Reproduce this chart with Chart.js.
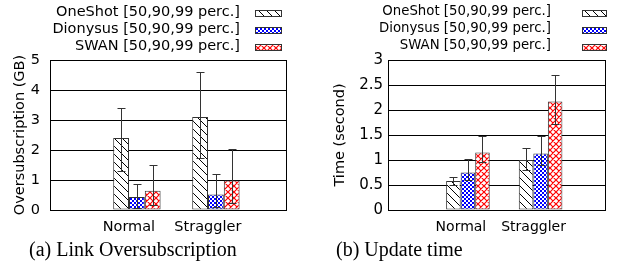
<!DOCTYPE html>
<html>
<head>
<meta charset="utf-8">
<script src="https://cdn.jsdelivr.net/npm/chart.js@4.4.1/dist/chart.umd.min.js"></script>
<style>
  body { margin: 0; background: #fff; width: 620px; height: 280px; position: relative; overflow: hidden; }
  canvas { position: absolute; top: 0; }
  .cap { position: absolute; top: 239px; font: 20px "Liberation Serif", serif; line-height: 20px; white-space: nowrap; color: #000; }
</style>
</head>
<body>
<canvas id="oversubChart" width="310" height="240" style="left:0"></canvas>
<canvas id="updateChart" width="310" height="240" style="left:310px"></canvas>
<div class="cap" style="left:29px">(a) Link Oversubscription</div>
<div class="cap" style="left:336px">(b) Update time</div>
<script>
const categories = ['Normal', 'Straggler'];
const seriesNames = ['OneShot [50,90,99 perc.]', 'Dionysus [50,90,99 perc.]', 'SWAN [50,90,99 perc.]'];

// (a) link oversubscription, GB: bar = 50th perc., whisker = 90..99
const oversubOneShot = [2.4, 3.1];
const oversubDionysus = [0.43, 0.52];
const oversubSwan = [0.64, 0.98];
const oversubLo = [[1.3, 1.73], [0.08, 0.1], [0.16, 0.24]];
const oversubHi = [[3.4, 4.6], [0.88, 1.2], [1.5, 2.05]];
const oversubTicks = [0, 1, 2, 3, 4, 5];

// (b) update time, seconds
const timeOneShot = [0.58, 1.0];
const timeDionysus = [0.75, 1.13];
const timeSwan = [1.15, 2.17];
const timeLo = [[0.5, 0.8], [0.61, 0.91], [0.97, 1.73]];
const timeHi = [[0.67, 1.24], [1.03, 1.48], [1.48, 2.7]];
const timeTicks = [0, 0.5, 1, 1.5, 2, 2.5, 3];

Chart.defaults.color = '#000';
const FONT = 'DejaVu Sans';

function tile(size, draw) {
  const c = document.createElement('canvas');
  c.width = c.height = size;
  const g = c.getContext('2d');
  g.fillStyle = '#fff';
  g.fillRect(0, 0, size, size);
  draw(g, size);
  return g.createPattern(c, 'repeat');
}

function makeFills() {
  const hatch = tile(8, (g, s) => {
    g.strokeStyle = '#000'; g.lineWidth = 1;
    g.beginPath();
    for (const k of [-s, 0, s]) { g.moveTo(k - 1, -1); g.lineTo(k + s + 1, s + 1); }
    g.stroke();
  });
  const check = tile(4, (g) => {
    g.fillStyle = '#0000ff';
    g.fillRect(0, 0, 2, 2);
    g.fillRect(2, 2, 2, 2);
  });
  const cross = tile(6, (g, s) => {
    g.strokeStyle = '#ff0000'; g.lineWidth = 1.2;
    g.beginPath();
    for (const k of [-s, 0, s]) {
      g.moveTo(k - 1, -1); g.lineTo(k + s + 1, s + 1);
      g.moveTo(k + s + 1, -1); g.lineTo(k - 1, s + 1);
    }
    g.stroke();
  });
  return [hatch, check, cross];
}

const errorBars = {
  id: 'errorBars',
  afterDatasetsDraw(chart) {
    const {ctx, scales: {y}} = chart;
    ctx.save();
    ctx.strokeStyle = '#333';
    ctx.lineWidth = 1;
    chart.data.datasets.forEach((ds, i) => {
      chart.getDatasetMeta(i).data.forEach((bar, j) => {
        const x = Math.round(bar.x) + 0.5;
        const top = Math.round(y.getPixelForValue(ds.hi[j])) + 0.5;
        const bot = Math.round(y.getPixelForValue(ds.lo[j])) + 0.5;
        ctx.beginPath();
        ctx.moveTo(x, top); ctx.lineTo(x, bot);
        ctx.moveTo(x - 4, top); ctx.lineTo(x + 4, top);
        ctx.moveTo(x - 4, bot); ctx.lineTo(x + 4, bot);
        ctx.stroke();
      });
    });
    ctx.restore();
  }
};

const frameAndLegend = {
  id: 'frameAndLegend',
  afterDraw(chart, args, opts) {
    const {ctx, chartArea: a} = chart;
    ctx.save();
    ctx.strokeStyle = '#000';
    ctx.lineWidth = 1;
    ctx.strokeRect(Math.round(a.left) + 0.5, Math.round(a.top) + 0.5,
      Math.round(a.right - a.left) - 1, Math.round(a.bottom - a.top));
    ctx.font = opts.fontSize + 'px "' + FONT + '"';
    ctx.textAlign = 'right';
    ctx.textBaseline = 'middle';
    chart.data.datasets.forEach((ds, i) => {
      const yy = 12 + 17 * i;
      ctx.fillStyle = '#000';
      ctx.fillText(ds.label, opts.textRight, yy);
      ctx.fillStyle = ds.backgroundColor;
      ctx.fillRect(opts.boxLeft, yy - 2, opts.boxWidth, 7);
      ctx.strokeStyle = '#333';
      ctx.strokeRect(opts.boxLeft + 0.5, yy - 1.5, opts.boxWidth - 1, 6);
    });
    ctx.restore();
  }
};

function makeChart(id, o) {
  const ctx = document.getElementById(id).getContext('2d');
  const fills = makeFills();
  const font = {family: FONT, size: o.fontSize};
  return new Chart(ctx, {
    type: 'bar',
    data: {
      datasets: o.values.map((vals, i) => ({
        label: seriesNames[i],
        data: vals.map((v, j) => ({x: j, y: v})),
        lo: o.lo[i],
        hi: o.hi[i],
        backgroundColor: fills[i],
        borderColor: '#333',
        borderWidth: 1,
        borderSkipped: false,
        categoryPercentage: 0.6,
        barPercentage: 1
      }))
    },
    options: {
      responsive: false,
      animation: false,
      layout: {padding: {left: 0, top: 60, right: o.padRight, bottom: 5}},
      plugins: {
        legend: {display: false},
        tooltip: {enabled: false},
        frameAndLegend: o.legend
      },
      scales: {
        x: {
          type: 'linear', min: -1.1, max: 1.9, offset: false,
          grid: {display: false}, border: {display: false},
          afterBuildTicks: s => { s.ticks = categories.map((c, j) => ({value: j})); },
          afterFit: s => { s.height = 25; },
          ticks: {
            callback: v => categories[v] ?? '',
            font: font, padding: 1, labelOffset: o.labelShift,
            maxRotation: 0, autoSkip: false
          }
        },
        y: {
          min: 0, max: o.ticks[o.ticks.length - 1],
          afterBuildTicks: s => { s.ticks = o.ticks.map(v => ({value: v})); },
          afterFit: s => { s.width = o.axisWidth; },
          ticks: {callback: v => String(v), padding: o.tickPad, font: {family: FONT, size: o.tickSize}},
          grid: {color: '#000', drawTicks: false},
          border: {color: '#000'},
          title: {display: true, text: o.yTitle, font: {family: FONT, size: 14.5},
                  padding: {top: o.titlePad, bottom: 0}}
        }
      }
    },
    plugins: [errorBars, frameAndLegend]
  });
}

makeChart('oversubChart', {
  values: [oversubOneShot, oversubDionysus, oversubSwan],
  lo: oversubLo, hi: oversubHi, ticks: oversubTicks,
  yTitle: 'Oversubscription (GB)',
  fontSize: 14.5, tickSize: 14.5, padRight: 23, axisWidth: 50, tickPad: 10, titlePad: 12, labelShift: -8,
  legend: {fontSize: 14.5, textRight: 240, boxLeft: 255, boxWidth: 27}
});

makeChart('updateChart', {
  values: [timeOneShot, timeDionysus, timeSwan],
  lo: timeLo, hi: timeHi, ticks: timeTicks,
  yTitle: 'Time (second)',
  fontSize: 14, tickSize: 15, padRight: 14, axisWidth: 78, tickPad: 5, titlePad: 22, labelShift: -7,
  legend: {fontSize: 13.3, textRight: 241, boxLeft: 272, boxWidth: 25}
});
</script>
</body>
</html>
